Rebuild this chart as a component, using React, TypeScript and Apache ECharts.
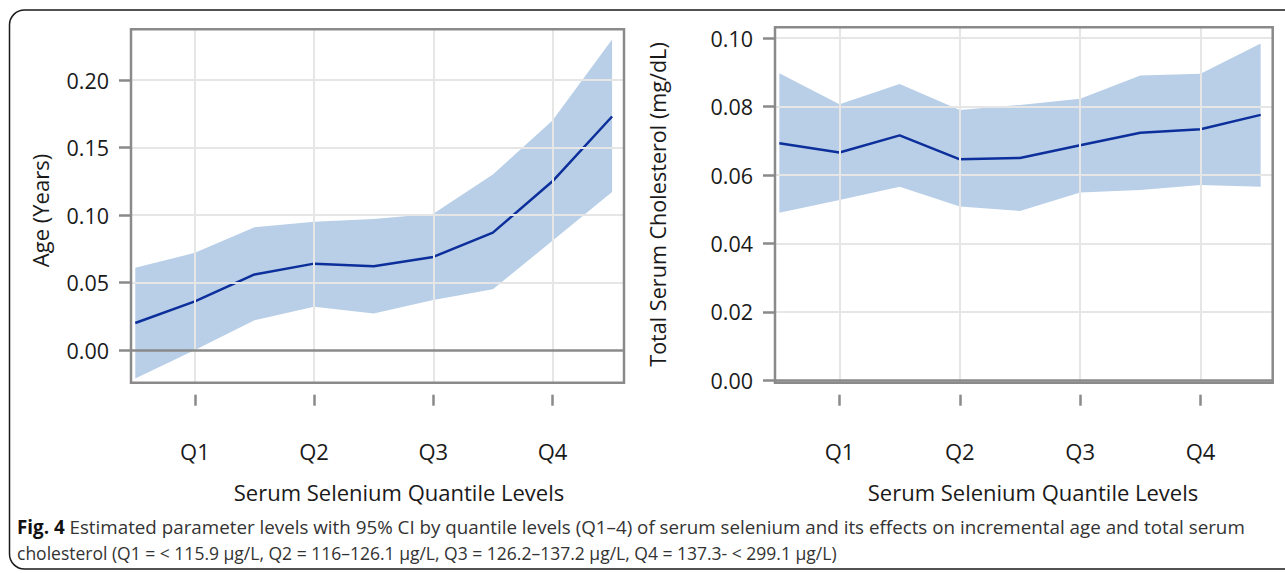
import React, { useEffect, useRef } from "react";
import * as echarts from "echarts";

const xPositions = [0.5, 1, 1.5, 2, 2.5, 3, 3.5, 4, 4.5];
const quartileTicks = [1, 2, 3, 4];
const quartileLabels = ["Q1", "Q2", "Q3", "Q4"];

const ageEstimate = [0.02, 0.036, 0.056, 0.064, 0.062, 0.069, 0.087, 0.125, 0.173];
const ageUpper = [0.061, 0.072, 0.091, 0.095, 0.097, 0.101, 0.13, 0.17, 0.23];
const ageLower = [-0.021, 0.0, 0.022, 0.032, 0.027, 0.037, 0.045, 0.081, 0.117];
const ageTicks = [0, 0.05, 0.1, 0.15, 0.2];

const cholEstimate = [0.0693, 0.0666, 0.0716, 0.0646, 0.065, 0.0687, 0.0724, 0.0734, 0.0776];
const cholUpper = [0.0898, 0.0807, 0.0866, 0.079, 0.0805, 0.0823, 0.0891, 0.0896, 0.0985];
const cholLower = [0.049, 0.0527, 0.0566, 0.0508, 0.0495, 0.0549, 0.0556, 0.0571, 0.0566];
const cholTicks = [0, 0.02, 0.04, 0.06, 0.08, 0.1];

const xAxisTitle = "Serum Selenium Quantile Levels";
const leftYTitle = "Age (Years)";
const rightYTitle = "Total Serum Cholesterol (mg/dL)";
const captionLine1 =
  " Estimated parameter levels with 95% CI by quantile levels (Q1–4) of serum selenium and its effects on incremental age and total serum";
const captionLine2 =
  "cholesterol (Q1 = < 115.9 μg/L, Q2 = 116–126.1 μg/L, Q3 = 126.2–137.2 μg/L, Q4 = 137.3- < 299.1 μg/L)";

const FONT = "'Open Sans', 'Noto Sans', sans-serif";
const BOX = "#8a8a8a";
const GRIDLINE = "#e6e6e6";
const BAND = "#b8cfe7";
const LINE = "#0c2f9b";
const TEXT = "#1a1a1a";

function bandSeries(idx: number, upper: number[], lower: number[]) {
  return {
    type: "custom",
    xAxisIndex: idx,
    yAxisIndex: idx,
    silent: true,
    z: 2,
    data: [0],
    renderItem: (params: any, api: any) => {
      const pts: number[][] = [];
      for (let i = 0; i < xPositions.length; i++) pts.push(api.coord([xPositions[i], upper[i]]));
      for (let i = xPositions.length - 1; i >= 0; i--) pts.push(api.coord([xPositions[i], lower[i]]));
      return {
        type: "polygon",
        shape: { points: pts },
        style: { fill: BAND, stroke: "none" },
      };
    },
  };
}

function lineSeries(idx: number, est: number[]) {
  return {
    type: "line",
    xAxisIndex: idx,
    yAxisIndex: idx,
    z: 4,
    symbol: "none",
    silent: true,
    lineStyle: { color: LINE, width: 2.5 },
    data: xPositions.map((x, i) => [x, est[i]]),
    markLine: {
      silent: true,
      symbol: "none",
      label: { show: false },
      lineStyle: { color: BOX, width: 2.5, type: "solid" },
      data: [{ yAxis: 0 }],
      z: 5,
    },
  };
}

function xAxisFor(idx: number) {
  return {
    type: "value",
    gridIndex: idx,
    min: 0.464,
    max: 4.6,
    offset: 12,
    axisLine: { show: false, onZero: false },
    axisTick: {
      show: true,
      customValues: quartileTicks,
      length: 11,
      lineStyle: { color: BOX, width: 2.5 },
    },
    axisLabel: {
      customValues: quartileTicks,
      margin: 45,
      fontSize: 22,
      fontFamily: FONT,
      color: TEXT,
      formatter: (v: number) => quartileLabels[quartileTicks.indexOf(Math.round(v))] || "",
    },
    splitLine: { show: false },
  };
}

function yAxisFor(idx: number, min: number, max: number, ticks: number[]) {
  return {
    type: "value",
    gridIndex: idx,
    min,
    max,
    axisLine: { show: false },
    axisTick: {
      show: true,
      customValues: ticks,
      length: 12,
      lineStyle: { color: BOX, width: 2.5 },
    },
    axisLabel: {
      customValues: ticks,
      margin: 22,
      fontSize: 21.5,
      fontFamily: FONT,
      color: TEXT,
      formatter: (v: number) => v.toFixed(2),
    },
    splitLine: { show: false },
  };
}

function gridLineSeries(idx: number, yTicks: number[]) {
  return {
    type: "line",
    xAxisIndex: idx,
    yAxisIndex: idx,
    data: [],
    z: 1,
    silent: true,
    markLine: {
      silent: true,
      symbol: "none",
      label: { show: false },
      lineStyle: { color: GRIDLINE, width: 2, type: "solid" },
      data: [
        ...quartileTicks.map((q) => ({ xAxis: q })),
        ...yTicks.map((t) => ({ yAxis: t })),
      ],
    },
  };
}

export default function App() {
  const ref = useRef<HTMLDivElement>(null);
  useEffect(() => {
    if (!ref.current) return;
    const chart = echarts.init(ref.current, null, { renderer: "svg" });
    chart.setOption({
      animation: false,
      backgroundColor: "#ffffff",
      grid: [
        {
          left: 131,
          top: 29.3,
          width: 493,
          height: 353.4,
          show: true,
          borderColor: BOX,
          borderWidth: 2.5,
          backgroundColor: "transparent",
          z: 6,
        },
        {
          left: 775,
          top: 27.3,
          width: 497.7,
          height: 355.4,
          show: true,
          borderColor: BOX,
          borderWidth: 2.5,
          backgroundColor: "transparent",
          z: 6,
        },
      ],
      xAxis: [xAxisFor(0), xAxisFor(1)],
      yAxis: [
        yAxisFor(0, -0.0242, 0.2376, ageTicks),
        yAxisFor(1, -0.0007, 0.1032, cholTicks),
      ],
      series: [
        gridLineSeries(0, ageTicks.filter((t) => t !== 0)),
        gridLineSeries(1, cholTicks.filter((t) => t !== 0)),
        bandSeries(0, ageUpper, ageLower),
        bandSeries(1, cholUpper, cholLower),
        lineSeries(0, ageEstimate),
        lineSeries(1, cholEstimate),
      ],
      graphic: [
        {
          type: "rect",
          shape: { x: 9.5, y: 10, width: 1300, height: 559, r: 15 },
          style: { fill: "none", stroke: "#1a1a1a", lineWidth: 1.5 },
          silent: true,
        },
        {
          type: "text",
          x: 399,
          y: 492,
          style: {
            text: xAxisTitle,
            font: `22px ${FONT}`,
            fill: TEXT,
            align: "center",
            verticalAlign: "middle",
          },
        },
        {
          type: "text",
          x: 1033,
          y: 492,
          style: {
            text: xAxisTitle,
            font: `22px ${FONT}`,
            fill: TEXT,
            align: "center",
            verticalAlign: "middle",
          },
        },
        {
          type: "text",
          x: 40,
          y: 210.5,
          rotation: Math.PI / 2,
          style: {
            text: leftYTitle,
            font: `22px ${FONT}`,
            fill: TEXT,
            align: "center",
            verticalAlign: "middle",
          },
        },
        {
          type: "text",
          x: 657,
          y: 204.5,
          rotation: Math.PI / 2,
          style: {
            text: rightYTitle,
            font: `21.6px ${FONT}`,
            fill: TEXT,
            align: "center",
            verticalAlign: "middle",
          },
        },
        {
          type: "text",
          x: 17,
          y: 527,
          style: {
            text: "{b|Fig. 4}{n|" + captionLine1 + "}",
            verticalAlign: "middle",
            rich: {
              b: { font: `bold 18.8px ${FONT}`, fill: "#111" },
              n: { font: `18.8px ${FONT}`, fill: "#333" },
            },
          },
        },
        {
          type: "text",
          x: 17,
          y: 553,
          style: {
            text: captionLine2,
            font: `17.5px ${FONT}`,
            fill: "#333",
            verticalAlign: "middle",
          },
        },
      ],
    });
    return () => chart.dispose();
  }, []);
  return (
    <div
      ref={ref}
      style={{ position: "absolute", left: 0, top: 0, width: 1285, height: 573 }}
    />
  );
}
